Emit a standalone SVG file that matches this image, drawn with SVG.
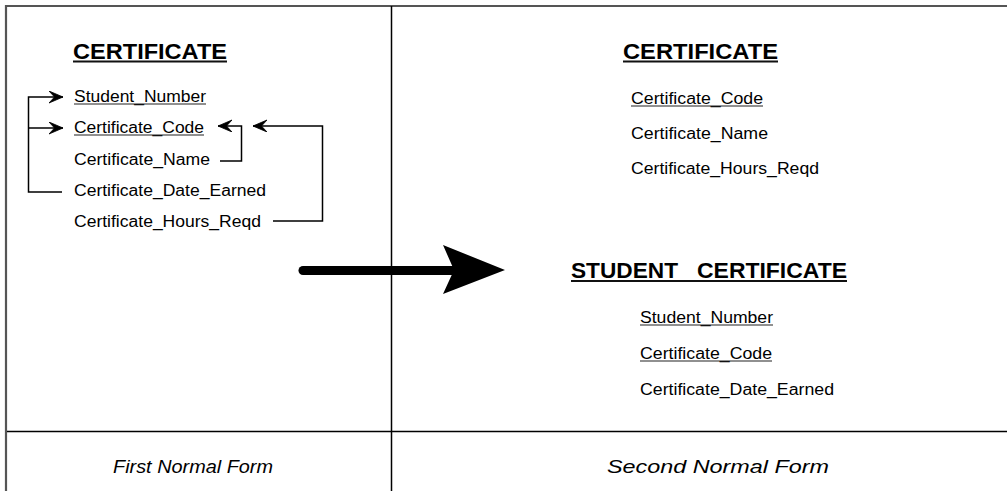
<svg xmlns="http://www.w3.org/2000/svg" width="1007" height="491" viewBox="0 0 1007 491">
<style>
.t{font-family:"Liberation Sans",Arial,sans-serif;fill:#000}
.title{font-size:22px;font-weight:bold}
.attr{font-size:16px}
.foot{font-size:19px;font-style:italic}
.ul{stroke:#222;stroke-width:1.2}
.ult{stroke:#111;stroke-width:2}
.conn{fill:none;stroke:#000;stroke-width:1.5}
.frame{stroke:#555;stroke-width:2.2}
.div{stroke:#000;stroke-width:1.5}
</style>
<defs>
<marker id="chev" markerUnits="userSpaceOnUse" markerWidth="16" markerHeight="14" refX="14" refY="6" orient="auto">
<path d="M0,0 L14,6 L0,12 L5.5,6 Z" fill="#000" stroke="#000" stroke-width="0.8" stroke-linejoin="miter"/>
</marker>
</defs>
<g id="frame">
<line class="frame" x1="6" y1="6" x2="1007" y2="6"/>
<line class="frame" x1="6" y1="5" x2="6" y2="491"/>
<line class="div" x1="7" y1="431.5" x2="1007" y2="431.5"/>
<line class="div" x1="391.5" y1="6" x2="391.5" y2="491"/>
</g>
<g id="node-1nf-certificate">
<text class="t title" x="73" y="59" textLength="154" lengthAdjust="spacingAndGlyphs">CERTIFICATE</text>
<line class="ult" x1="73" y1="61.5" x2="227" y2="61.5"/>
<text class="t attr" x="74" y="102" textLength="132" lengthAdjust="spacingAndGlyphs">Student_Number</text>
<line class="ul" x1="74" y1="104" x2="206" y2="104"/>
<text class="t attr" x="74" y="133" textLength="130" lengthAdjust="spacingAndGlyphs">Certificate_Code</text>
<line class="ul" x1="74" y1="135" x2="204" y2="135"/>
<text class="t attr" x="74" y="165" textLength="136" lengthAdjust="spacingAndGlyphs">Certificate_Name</text>
<text class="t attr" x="74" y="196" textLength="192" lengthAdjust="spacingAndGlyphs">Certificate_Date_Earned</text>
<text class="t attr" x="74" y="227" textLength="187" lengthAdjust="spacingAndGlyphs">Certificate_Hours_Reqd</text>
</g>
<g id="node-2nf-certificate">
<text class="t title" x="623" y="59" textLength="155" lengthAdjust="spacingAndGlyphs">CERTIFICATE</text>
<line class="ult" x1="623" y1="61.5" x2="778" y2="61.5"/>
<text class="t attr" x="631" y="104" textLength="132" lengthAdjust="spacingAndGlyphs">Certificate_Code</text>
<line class="ul" x1="631" y1="106" x2="763" y2="106"/>
<text class="t attr" x="631" y="139" textLength="137" lengthAdjust="spacingAndGlyphs">Certificate_Name</text>
<text class="t attr" x="631" y="174" textLength="188" lengthAdjust="spacingAndGlyphs">Certificate_Hours_Reqd</text>
</g>
<g id="node-2nf-student-certificate">
<text class="t title" y="278"><tspan x="571" textLength="107" lengthAdjust="spacingAndGlyphs">STUDENT</tspan> <tspan x="697" textLength="150" lengthAdjust="spacingAndGlyphs">CERTIFICATE</tspan></text>
<line class="ult" x1="571" y1="281" x2="847" y2="281"/>
<text class="t attr" x="640" y="323" textLength="133" lengthAdjust="spacingAndGlyphs">Student_Number</text>
<line class="ul" x1="640" y1="325" x2="773" y2="325"/>
<text class="t attr" x="640" y="359" textLength="132" lengthAdjust="spacingAndGlyphs">Certificate_Code</text>
<line class="ul" x1="640" y1="361" x2="772" y2="361"/>
<text class="t attr" x="640" y="395" textLength="194" lengthAdjust="spacingAndGlyphs">Certificate_Date_Earned</text>
</g>
<g id="footer">
<text class="t foot" x="113" y="473" textLength="160" lengthAdjust="spacingAndGlyphs">First Normal Form</text>
<text class="t foot" x="607" y="473" textLength="222" lengthAdjust="spacingAndGlyphs">Second Normal Form</text>
</g>
<g id="connectors">
<path class="conn" d="M62,192 H28.5 V97 H63" marker-end="url(#chev)"/>
<path class="conn" d="M28.5,128 H63" marker-end="url(#chev)"/>
<path class="conn" d="M220,161 H241.5 V126 H218" marker-end="url(#chev)"/>
<path class="conn" d="M273,221 H322.5 V126 H253" marker-end="url(#chev)"/>
<line x1="303" y1="270.5" x2="456" y2="270.5" stroke="#000" stroke-width="9" stroke-linecap="round"/>
<path d="M443,245 L505,270 L443,294 L454,270 Z" fill="#000"/>
</g>
</svg>
